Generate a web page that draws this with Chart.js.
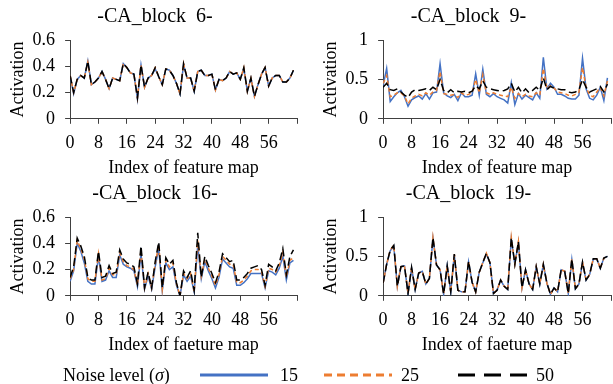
<!DOCTYPE html>
<html>
<head>
<meta charset="utf-8">
<script src="https://cdn.jsdelivr.net/npm/chart.js@4.4.1/dist/chart.umd.min.js"></script>
<style>
  html, body { margin: 0; padding: 0; background: #fff; overflow: hidden; }
  body { width: 613px; height: 384px; position: relative; font-family: 'Liberation Serif', 'DejaVu Serif', serif; }
  canvas { position: absolute; }
  #legend { position: absolute; left: 0; top: 364px; width: 613px; height: 22px; font-size: 18px; line-height: 22px; color: #000; }
  #legend span, #legend svg { position: absolute; top: 0; }
</style>
</head>
<body>
<canvas id="c6" width="306" height="178" style="left:0;top:0"></canvas>
<canvas id="c9" width="307" height="178" style="left:313px;top:0"></canvas>
<canvas id="c16" width="306" height="178" style="left:0;top:177px"></canvas>
<canvas id="c19" width="307" height="178" style="left:313px;top:177px"></canvas>
<div id="legend">
  <span style="left:63px">Noise level (<i>σ</i>)</span>
  <svg style="left:200px" width="70" height="22"><line x1="0" y1="11" x2="68" y2="11" stroke="#4472C4" stroke-width="3"/></svg>
  <span style="left:280px">15</span>
  <svg style="left:324px" width="70" height="22"><line x1="0" y1="11" x2="68" y2="11" stroke="#ED7D31" stroke-width="3" stroke-dasharray="8,5"/></svg>
  <span style="left:401px">25</span>
  <svg style="left:458px" width="72" height="22"><line x1="0" y1="11" x2="69" y2="11" stroke="#000" stroke-width="3" stroke-dasharray="17,9"/></svg>
  <span style="left:536px">50</span>
</div>
<script>
// feature map index 0..63, x ticks every 8
var xTickStep = 8;
var xMax = 64;

// -CA_block 6-
var block6_s15 = [0.33,0.19,0.30,0.33,0.31,0.44,0.26,0.28,0.31,0.36,0.30,0.23,0.31,0.30,0.29,0.42,0.39,0.35,0.34,0.15,0.41,0.24,0.31,0.33,0.38,0.32,0.26,0.38,0.37,0.33,0.27,0.19,0.41,0.31,0.31,0.21,0.36,0.37,0.33,0.33,0.34,0.22,0.30,0.29,0.31,0.36,0.34,0.35,0.30,0.38,0.21,0.31,0.17,0.26,0.34,0.39,0.25,0.31,0.33,0.33,0.28,0.28,0.31,0.37];
var block6_s25 = [0.33,0.20,0.30,0.33,0.31,0.43,0.26,0.28,0.31,0.36,0.30,0.23,0.31,0.30,0.29,0.42,0.39,0.35,0.34,0.16,0.41,0.24,0.31,0.33,0.39,0.32,0.26,0.38,0.37,0.33,0.27,0.19,0.42,0.31,0.31,0.21,0.36,0.37,0.33,0.33,0.34,0.22,0.30,0.29,0.31,0.36,0.34,0.35,0.30,0.39,0.21,0.31,0.17,0.26,0.34,0.39,0.25,0.31,0.33,0.33,0.28,0.28,0.31,0.37];
var block6_s50 = [0.33,0.20,0.30,0.33,0.31,0.44,0.26,0.28,0.31,0.36,0.30,0.23,0.31,0.30,0.29,0.42,0.39,0.35,0.34,0.16,0.41,0.24,0.31,0.33,0.39,0.32,0.26,0.38,0.37,0.33,0.27,0.19,0.42,0.31,0.31,0.21,0.36,0.37,0.33,0.33,0.34,0.22,0.30,0.29,0.31,0.36,0.34,0.35,0.30,0.39,0.21,0.31,0.17,0.26,0.34,0.39,0.25,0.31,0.33,0.33,0.28,0.28,0.31,0.37];

// -CA_block 9-
var block9_s15 = [0.42,0.64,0.22,0.28,0.33,0.36,0.28,0.16,0.24,0.27,0.29,0.25,0.32,0.25,0.33,0.34,0.70,0.33,0.29,0.27,0.31,0.23,0.33,0.28,0.28,0.30,0.57,0.30,0.63,0.31,0.28,0.32,0.28,0.26,0.24,0.20,0.46,0.18,0.32,0.25,0.30,0.27,0.24,0.33,0.26,0.78,0.38,0.45,0.40,0.31,0.31,0.29,0.26,0.25,0.25,0.30,0.77,0.38,0.26,0.24,0.30,0.40,0.23,0.52];
var block9_s25 = [0.45,0.55,0.28,0.30,0.33,0.33,0.29,0.19,0.26,0.29,0.31,0.29,0.33,0.30,0.34,0.36,0.60,0.32,0.31,0.30,0.31,0.27,0.33,0.30,0.31,0.33,0.50,0.33,0.56,0.33,0.31,0.33,0.31,0.30,0.29,0.28,0.40,0.26,0.32,0.28,0.31,0.29,0.28,0.33,0.30,0.64,0.38,0.42,0.39,0.34,0.33,0.32,0.30,0.29,0.31,0.34,0.65,0.40,0.30,0.28,0.34,0.40,0.29,0.48];
var block9_s50 = [0.40,0.45,0.37,0.36,0.38,0.34,0.30,0.27,0.34,0.37,0.36,0.37,0.38,0.36,0.40,0.37,0.50,0.36,0.33,0.37,0.33,0.35,0.34,0.35,0.33,0.35,0.42,0.38,0.48,0.40,0.38,0.37,0.36,0.35,0.36,0.38,0.45,0.34,0.40,0.33,0.38,0.33,0.36,0.40,0.36,0.52,0.37,0.41,0.39,0.38,0.37,0.37,0.34,0.33,0.34,0.37,0.50,0.40,0.34,0.36,0.38,0.41,0.34,0.44];

// -CA_block 16-
var block16_s15 = [0.11,0.19,0.40,0.34,0.25,0.11,0.09,0.09,0.30,0.11,0.12,0.19,0.14,0.14,0.31,0.24,0.22,0.21,0.19,0.07,0.32,0.05,0.15,0.05,0.22,0.36,0.04,0.25,0.20,0.22,0.08,0.00,0.16,0.11,0.15,0.03,0.38,0.13,0.26,0.19,0.13,0.06,0.14,0.28,0.25,0.22,0.21,0.08,0.08,0.10,0.13,0.17,0.17,0.17,0.17,0.06,0.19,0.18,0.16,0.21,0.30,0.12,0.25,0.27];
var block16_s25 = [0.13,0.20,0.42,0.36,0.28,0.13,0.11,0.11,0.32,0.12,0.13,0.21,0.16,0.16,0.33,0.26,0.23,0.22,0.20,0.08,0.35,0.06,0.17,0.06,0.24,0.39,0.05,0.27,0.22,0.25,0.09,0.00,0.17,0.13,0.17,0.03,0.42,0.15,0.28,0.21,0.15,0.08,0.16,0.30,0.27,0.24,0.24,0.10,0.10,0.12,0.15,0.19,0.20,0.20,0.18,0.07,0.21,0.20,0.18,0.23,0.33,0.14,0.27,0.29];
var block16_s50 = [0.14,0.22,0.44,0.38,0.30,0.14,0.12,0.12,0.34,0.14,0.15,0.23,0.17,0.18,0.35,0.28,0.25,0.24,0.22,0.09,0.38,0.06,0.18,0.06,0.26,0.41,0.06,0.29,0.24,0.27,0.10,0.00,0.19,0.14,0.19,0.04,0.48,0.14,0.30,0.23,0.17,0.10,0.18,0.32,0.29,0.26,0.27,0.12,0.12,0.14,0.17,0.21,0.22,0.23,0.20,0.08,0.24,0.22,0.19,0.25,0.36,0.16,0.30,0.35];

// -CA_block 19-
var block19_s15 = [0.16,0.40,0.57,0.63,0.12,0.37,0.38,0.03,0.35,0.08,0.29,0.31,0.15,0.22,0.73,0.39,0.33,0.02,0.38,0.05,0.52,0.07,0.05,0.05,0.43,0.17,0.05,0.30,0.42,0.53,0.42,0.03,0.07,0.20,0.12,0.08,0.72,0.40,0.68,0.10,0.33,0.15,0.08,0.37,0.15,0.40,0.16,0.02,0.10,0.05,0.33,0.31,0.03,0.46,0.09,0.15,0.42,0.20,0.27,0.46,0.47,0.35,0.48,0.50];
var block19_s25 = [0.16,0.40,0.58,0.64,0.12,0.37,0.38,0.03,0.36,0.08,0.29,0.31,0.15,0.22,0.74,0.39,0.33,0.02,0.38,0.05,0.53,0.07,0.05,0.05,0.44,0.17,0.05,0.30,0.42,0.54,0.42,0.03,0.07,0.20,0.12,0.08,0.74,0.40,0.69,0.10,0.33,0.15,0.08,0.37,0.15,0.40,0.16,0.02,0.10,0.05,0.33,0.31,0.03,0.47,0.09,0.15,0.43,0.20,0.27,0.47,0.47,0.35,0.48,0.50];
var block19_s50 = [0.16,0.40,0.58,0.64,0.12,0.37,0.38,0.03,0.36,0.08,0.29,0.31,0.15,0.22,0.74,0.39,0.33,0.02,0.38,0.05,0.53,0.07,0.05,0.05,0.44,0.17,0.05,0.30,0.42,0.54,0.42,0.03,0.07,0.20,0.12,0.08,0.74,0.40,0.69,0.10,0.33,0.15,0.08,0.37,0.15,0.40,0.16,0.02,0.10,0.05,0.33,0.31,0.03,0.47,0.09,0.15,0.43,0.20,0.27,0.47,0.47,0.35,0.48,0.50];

var serif = "'Liberation Serif', 'DejaVu Serif', serif";
var axisColor = '#404040';

function toPoints(arr) {
    return arr.map(function(v, i) { return { x: i, y: v }; });
}

function makeChart(id, title, xTitle, yMax, yStep, s15, s25, s50) {
    var ctx = document.getElementById(id).getContext('2d');
    return new Chart(ctx, {
        type: 'line',
        data: {
            datasets: [
                { label: '15', data: toPoints(s15), borderColor: '#4472C4', borderWidth: 1.5, order: 3 },
                { label: '25', data: toPoints(s25), borderColor: '#ED7D31', borderWidth: 1.5, borderDash: [4, 3], order: 2 },
                { label: '50', data: toPoints(s50), borderColor: '#000000', borderWidth: 1.5, borderDash: [8, 4], order: 1 }
            ]
        },
        options: {
            responsive: false,
            animation: false,
            devicePixelRatio: 1,
            elements: { point: { radius: 0 }, line: { tension: 0, fill: false } },
            layout: { padding: { left: 4, right: 0, top: 0, bottom: 0 } },
            plugins: {
                legend: { display: false },
                tooltip: { enabled: false },
                title: {
                    display: true,
                    text: title,
                    color: '#000',
                    font: { family: serif, size: 20, weight: 'normal' },
                    padding: { top: 5, bottom: 11 }
                }
            },
            scales: {
                x: {
                    type: 'linear',
                    min: 0,
                    max: xMax,
                    grid: { drawOnChartArea: false, drawTicks: true, tickLength: 5, color: axisColor },
                    border: { color: axisColor, width: 1 },
                    ticks: {
                        stepSize: xTickStep,
                        autoSkip: false,
                        color: '#000',
                        font: { family: serif, size: 18 },
                        padding: 9,
                        maxRotation: 0,
                        callback: function(v) { return v === xMax ? '' : String(v); }
                    },
                    // negative top padding pulls the title up over the space kept under the tick labels
                    title: { display: true, text: xTitle, color: '#000', font: { family: serif, size: 18 }, padding: { top: -6, bottom: -1 } }
                },
                y: {
                    min: 0,
                    max: yMax,
                    grid: { drawOnChartArea: false, drawTicks: true, tickLength: 5, color: axisColor },
                    border: { color: axisColor, width: 1 },
                    ticks: {
                        stepSize: yStep,
                        autoSkip: false,
                        color: '#000',
                        font: { family: serif, size: 18 },
                        padding: 10,
                        callback: function(v) { return String(Math.round(v * 10) / 10); }
                    },
                    title: { display: true, text: 'Activation', color: '#000', font: { family: serif, size: 18 }, padding: { top: 3, bottom: -6 } }
                }
            }
        }
    });
}

makeChart('c6', '-CA_block  6-', 'Index of feature map', 0.6, 0.2, block6_s15, block6_s25, block6_s50);
makeChart('c9', '-CA_block  9-', 'Index of feature map', 1, 0.5, block9_s15, block9_s25, block9_s50);
makeChart('c16', '-CA_block  16-', 'Index of faeture map', 0.6, 0.2, block16_s15, block16_s25, block16_s50);
makeChart('c19', '-CA_block  19-', 'Index of faeture map', 1, 0.5, block19_s15, block19_s25, block19_s50);
</script>
</body>
</html>
